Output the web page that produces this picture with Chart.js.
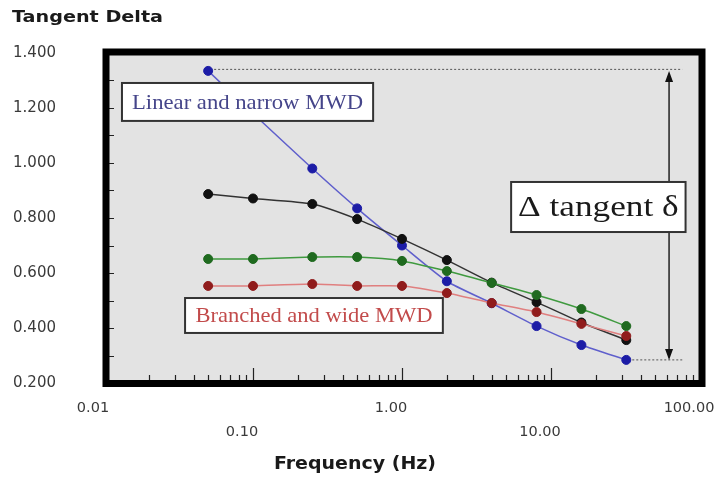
<!DOCTYPE html>
<html>
<head>
<meta charset="utf-8">
<script src="https://cdn.jsdelivr.net/npm/chart.js@4.4.1/dist/chart.umd.min.js"></script>
<style>
  html, body { margin: 0; padding: 0; background: #fff; }
  #wrap { width: 715px; height: 478px; }
</style>
</head>
<body>
<div id="wrap"><canvas id="tanChart"></canvas></div>
<script>
// frequencies (Hz) and tangent delta readings
const frequencies = [0.05, 0.1, 0.25, 0.5, 1, 2, 4, 8, 16, 32];
const linearNarrow = [1.335, 1.18, 0.98, 0.835, 0.70, 0.57, 0.49, 0.407, 0.338, 0.284];
const blackSeries = [0.887, 0.871, 0.851, 0.796, 0.724, 0.647, 0.565, 0.494, 0.42, 0.356];
const greenSeries = [0.651, 0.651, 0.658, 0.658, 0.644, 0.607, 0.564, 0.52, 0.469, 0.407];
const branchedWide = [0.553, 0.553, 0.56, 0.553, 0.553, 0.527, 0.491, 0.458, 0.415, 0.371];

const xTicks = [0.01, 0.1, 1, 10, 100];
const yMin = 0.2, yMax = 1.4;

// note boxes, corners in data units: [x0, y0, x1, y1]
const notes = [
  { text: 'Linear and narrow MWD', box: [0.0132, 1.291, 0.64, 1.153], color: '#45458a', size: 22 },
  { text: 'Branched and wide MWD', box: [0.035, 0.509, 1.88, 0.382], color: '#c24b4b', size: 22 },
  { text: '\u0394 tangent \u03b4', box: [5.4, 0.931, 80, 0.749], color: '#1a1a1a', size: 29 }
];
const arrowX = 62, dotEndX = 76;

const toPoints = vals => vals.map((v, i) => ({ x: frequencies[i], y: v }));

function fitText(ctx, text, cx, cy, width) {
  const w = ctx.measureText(text).width;
  ctx.save();
  ctx.translate(cx, cy);
  ctx.scale(width / w, 1);
  ctx.fillText(text, 0, 0);
  ctx.restore();
}

const decor = {
  id: 'decor',
  beforeDatasetsDraw(chart) {
    const { ctx, chartArea: a, scales: { x, y } } = chart;
    ctx.save();
    ctx.fillStyle = '#e3e3e3';
    ctx.fillRect(a.left, a.top, a.right - a.left, a.bottom - a.top);

    // inner tick marks
    ctx.strokeStyle = '#222';
    ctx.lineWidth = 1.2;
    ctx.beginPath();
    for (let k = 1; k < 12; k++) {
      const py = Math.round(y.getPixelForValue(yMin + k * 0.1)) + 0.5;
      ctx.moveTo(a.left + 5, py);
      ctx.lineTo(a.left + 10, py);
    }
    for (let d = 0; d < xTicks.length - 1; d++) {
      for (let m = 1; m <= 9; m++) {
        const px = Math.round(x.getPixelForValue(xTicks[d] * m)) + 0.5;
        const len = m === 1 ? 13 : 6;
        ctx.moveTo(px, a.bottom - 2);
        ctx.lineTo(px, a.bottom - 2 - len);
      }
    }
    ctx.stroke();

    // dotted guides + double arrow
    const top = y.getPixelForValue(Math.max(...linearNarrow));
    const bot = y.getPixelForValue(Math.min(...linearNarrow));
    const ax = x.getPixelForValue(arrowX);
    const ex = x.getPixelForValue(dotEndX);
    ctx.strokeStyle = '#555';
    ctx.lineWidth = 1;
    ctx.setLineDash([2, 2]);
    ctx.beginPath();
    ctx.moveTo(x.getPixelForValue(frequencies[0]) + 6, top - 1.5);
    ctx.lineTo(ex, top - 1.5);
    ctx.moveTo(x.getPixelForValue(frequencies[frequencies.length - 1]) + 6, bot);
    ctx.lineTo(ex, bot);
    ctx.stroke();
    ctx.setLineDash([]);
    ctx.strokeStyle = '#222';
    ctx.lineWidth = 1.5;
    ctx.beginPath();
    ctx.moveTo(ax, top + 8);
    ctx.lineTo(ax, bot - 8);
    ctx.stroke();
    ctx.fillStyle = '#111';
    ctx.beginPath();
    ctx.moveTo(ax, top); ctx.lineTo(ax - 4, top + 11); ctx.lineTo(ax + 4, top + 11); ctx.closePath();
    ctx.moveTo(ax, bot); ctx.lineTo(ax - 4, bot - 11); ctx.lineTo(ax + 4, bot - 11); ctx.closePath();
    ctx.fill();
    ctx.restore();
  },
  afterDatasetsDraw(chart) {
    const { ctx, chartArea: a, scales: { x, y } } = chart;
    ctx.save();
    notes.forEach(n => {
      const x0 = x.getPixelForValue(n.box[0]), x1 = x.getPixelForValue(n.box[2]);
      const y0 = y.getPixelForValue(n.box[1]), y1 = y.getPixelForValue(n.box[3]);
      ctx.fillStyle = '#fff';
      ctx.fillRect(x0, y0, x1 - x0, y1 - y0);
      ctx.strokeStyle = '#333';
      ctx.lineWidth = 2;
      ctx.strokeRect(x0, y0, x1 - x0, y1 - y0);
      ctx.fillStyle = n.color;
      ctx.font = n.size + 'px "Liberation Serif", serif';
      ctx.textAlign = 'center';
      ctx.textBaseline = 'middle';
      fitText(ctx, n.text, (x0 + x1) / 2, (y0 + y1) / 2 + 1, (x1 - x0) * 0.92);
    });
    // heavy frame
    ctx.strokeStyle = '#000';
    ctx.lineWidth = 7;
    ctx.strokeRect(a.left + 2, a.top - 1, a.right - a.left, a.bottom - a.top + 1.5);
    ctx.restore();
  },
  afterDraw(chart) {
    const { ctx } = chart;
    ctx.save();
    ctx.fillStyle = '#1a1a1a';
    ctx.textBaseline = 'middle';
    ctx.font = 'bold 16px "DejaVu Sans", sans-serif';
    ctx.textAlign = 'left';
    const w = ctx.measureText('Tangent Delta').width;
    ctx.translate(12, 18);
    ctx.scale(151 / w, 1);
    ctx.fillText('Tangent Delta', 0, 0);
    ctx.restore();
    ctx.save();
    ctx.fillStyle = '#1a1a1a';
    ctx.textBaseline = 'middle';
    ctx.textAlign = 'center';
    ctx.font = 'bold 17px "DejaVu Sans", sans-serif';
    fitText(ctx, 'Frequency (Hz)', 355, 465, 162);
    ctx.restore();
  }
};

const ctx = document.getElementById('tanChart').getContext('2d');
new Chart(ctx, {
  type: 'line',
  data: {
    datasets: [
      { label: 'Green', data: toPoints(greenSeries), borderColor: '#3f9a3f', pointBackgroundColor: '#1f6a1f', pointBorderColor: '#1f6a1f' },
      { label: 'Branched and wide MWD', data: toPoints(branchedWide), borderColor: '#e07f7f', pointBackgroundColor: '#901c1c', pointBorderColor: '#901c1c' },
      { label: 'Black', data: toPoints(blackSeries), borderColor: '#333', pointBackgroundColor: '#111', pointBorderColor: '#111' },
      { label: 'Linear and narrow MWD', data: toPoints(linearNarrow), borderColor: '#5f5fcc', pointBackgroundColor: '#1c1ca6', pointBorderColor: '#1c1ca6' }
    ].map(d => Object.assign(d, { borderWidth: 1.5, pointRadius: 4.5, pointBorderWidth: 1, tension: 0.2, fill: false }))
  },
  options: {
    responsive: true,
    maintainAspectRatio: false,
    animation: false,
    layout: { padding: { top: 53, right: 15, left: 0, bottom: 0 } },
    plugins: { legend: { display: false }, tooltip: { enabled: false } },
    scales: {
      x: {
        type: 'logarithmic',
        min: 0.01,
        max: 100,
        afterBuildTicks: scale => { scale.ticks = xTicks.map(v => ({ value: v })); },
        afterFit: scale => { scale.height = 95; scale.paddingLeft = 0; scale.paddingRight = 0; },
        grid: { display: false, drawTicks: false },
        border: { display: false },
        ticks: {
          autoSkip: false,
          maxRotation: 0,
          padding: 13,
          labelOffset: -11,
          color: '#3a3a3a',
          font: { family: '"DejaVu Sans", sans-serif', size: 14.5, lineHeight: 1.65 },
          callback: (v, i) => i % 2 ? ['', Number(v).toFixed(2)] : Number(v).toFixed(2)
        }
      },
      y: {
        min: yMin,
        max: yMax,
        afterFit: scale => { scale.width = 104; scale.paddingTop = 0; scale.paddingBottom = 0; },
        grid: { display: false, drawTicks: false },
        border: { display: false },
        ticks: {
          stepSize: 0.2,
          padding: 48,
          color: '#3a3a3a',
          font: { family: '"DejaVu Sans", sans-serif', size: 15 },
          callback: v => Number(v).toFixed(3)
        }
      }
    }
  },
  plugins: [decor]
});
</script>
</body>
</html>
